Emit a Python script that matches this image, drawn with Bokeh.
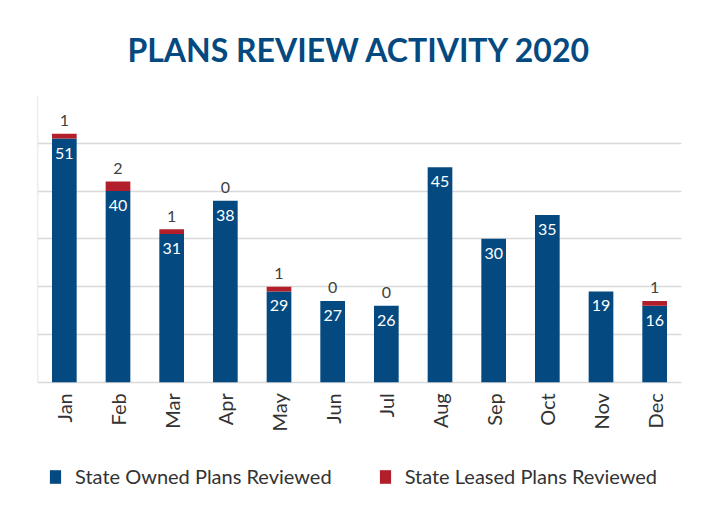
import math
from bokeh.plotting import figure
from bokeh.models import ColumnDataSource, Legend, LegendItem, Range1d, FactorRange, FixedTicker
from bokeh.embed import file_html
from bokeh.resources import INLINE
from bokeh.core.properties import value

months = ["Jan", "Feb", "Mar", "Apr", "May", "Jun", "Jul", "Aug", "Sep", "Oct", "Nov", "Dec"]
# bar heights as drawn in the reference
owned = [51, 40, 31, 38, 19, 17, 16, 45, 30, 35, 19, 16]
leased = [1, 2, 1, 0, 1, 0, 0, 0, 0, 0, 0, 1]
# data labels as printed in the reference
owned_labels = ["51", "40", "31", "38", "29", "27", "26", "45", "30", "35", "19", "16"]
leased_labels = ["1", "2", "1", "0", "1", "0", "0", "", "", "", "", "1"]
y_ticks = [0, 10, 20, 30, 40, 50, 60]

BLUE = "#044a80"
RED = "#b21f2a"
GRID = "#d9d9d9"
FONT = "Lato"

src = ColumnDataSource(dict(
    month=months, owned=owned, leased=leased,
    total=[o + l for o, l in zip(owned, leased)],
    owned_lbl=owned_labels, leased_lbl=leased_labels,
    zero=[0] * len(months),
))

# frame extends below the baseline so the month labels and legend live inside it
p = figure(frame_width=644, frame_height=405, output_backend="svg", toolbar_location=None,
           x_range=FactorRange(factors=months), y_range=Range1d(-24.75, 60),
           min_border_left=37, min_border_right=30, min_border_top=95, min_border_bottom=8)
p.outline_line_color = None
p.background_fill_color = "white"
p.border_fill_color = "white"
p.xaxis.visible = False
p.yaxis.visible = False
p.xgrid.grid_line_color = None
p.ygrid.ticker = FixedTicker(ticks=y_ticks)
p.ygrid.grid_line_color = GRID
p.ygrid.grid_line_width = 1.5

# left axis line of the value scale
p.segment(x0=[0], y0=[y_ticks[0]], x1=[0], y1=[y_ticks[-1]], line_color=GRID, line_width=1.5)

rs = p.vbar_stack(["owned", "leased"], x="month", width=0.46, fill_color=[BLUE, RED],
                  line_color=None, source=src)

p.text(x="month", y="owned", text="owned_lbl", source=src, y_offset=14.5,
       text_align="center", text_baseline="middle", text_color="white",
       text_font=value(FONT), text_font_size="16px")
p.text(x="month", y="total", text="leased_lbl", source=src, y_offset=-13,
       text_align="center", text_baseline="middle", text_color="#404040",
       text_font=value(FONT), text_font_size="16px")

# month category labels, rotated
p.text(x="month", y="zero", text="month", source=src, y_offset=11, angle=math.pi / 2,
       text_align="right", text_baseline="middle", text_color="#333333",
       text_font=value(FONT), text_font_size="20px")

p.title.text = "PLANS REVIEW ACTIVITY 2020"
p.title.align = "center"
p.title.text_font = FONT
p.title.text_font_style = "bold"
p.title.text_font_size = "32px"
p.title.text_color = BLUE
p.title.standoff = 53

legend = Legend(items=[LegendItem(label="State Owned Plans Reviewed", renderers=[rs[0]]),
                       LegendItem(label="State Leased Plans Reviewed", renderers=[rs[1]])],
                orientation="horizontal", location=(11, 12), margin=0, padding=0,
                spacing=46, glyph_width=14, glyph_height=17, label_standoff=13,
                label_text_font=FONT, label_text_font_size="20px", label_text_color="#333333",
                border_line_color=None, background_fill_alpha=0)
p.add_layout(legend, "center")

open("out.html", "w").write(file_html(p, INLINE))
